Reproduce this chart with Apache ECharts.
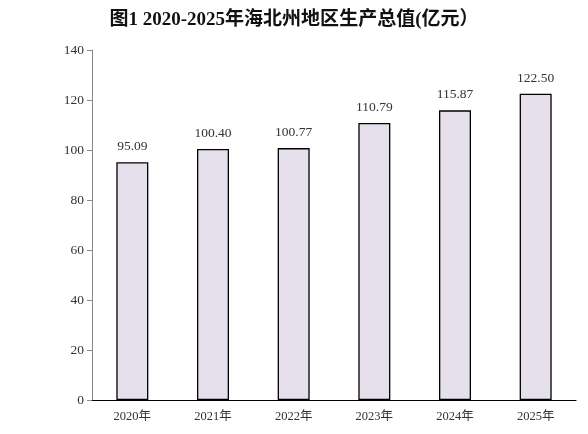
<!DOCTYPE html>
<html>
<head>
<meta charset="utf-8">
<script src="https://cdn.jsdelivr.net/npm/echarts@6/dist/echarts.min.js"></script>
<style>
  html, body { margin: 0; padding: 0; background: #fff; }
  #chart { width: 588px; height: 434px; }
</style>
</head>
<body>
<div id="chart"></div>
<script>
const years = ['2020年', '2021年', '2022年', '2023年', '2024年', '2025年'];
const gdp = [95.09, 100.40, 100.77, 110.79, 115.87, 122.50];

const fontFam = '"Liberation Serif", "DejaVu Serif", "Noto Sans CJK SC", serif';

const drawChart = (domElement) => {
  const chart = echarts.init(domElement);
  const option = {
    backgroundColor: '#fff',
    animation: false,
    title: {
      text: '图1 2020-2025年海北州地区生产总值(亿元）',
      left: 'center',
      top: 6,
      textStyle: {
        fontFamily: fontFam,
        fontSize: 19,
        fontWeight: 'bold',
        color: '#111',
      },
    },
    grid: { left: 92, right: 12, top: 50, bottom: 34 },
    xAxis: {
      type: 'category',
      data: years,
      axisLine: { lineStyle: { color: '#000', width: 1.2 } },
      axisTick: { show: false },
      axisLabel: {
        color: '#333',
        fontFamily: fontFam,
        fontSize: 12.5,
        margin: 10,
      },
    },
    yAxis: {
      type: 'value',
      min: 0,
      max: 140,
      interval: 20,
      splitLine: { show: false },
      axisLine: { show: true, lineStyle: { color: '#888', width: 1 } },
      axisTick: { show: true, length: 5, lineStyle: { color: '#888' } },
      axisLabel: {
        color: '#333',
        fontFamily: fontFam,
        fontSize: 13.5,
        margin: 8,
      },
    },
    series: [
      {
        type: 'bar',
        data: gdp,
        barWidth: 32,
        itemStyle: {
          color: '#e5e0ec',
          borderColor: '#000',
          borderWidth: 1.3,
        },
        label: {
          show: true,
          position: 'top',
          distance: 9,
          color: '#333',
          fontFamily: fontFam,
          fontSize: 13.5,
          formatter: (p) => p.value.toFixed(2),
        },
      },
    ],
  };
  chart.setOption(option);
};

drawChart(document.querySelector('#chart'));
</script>
</body>
</html>
